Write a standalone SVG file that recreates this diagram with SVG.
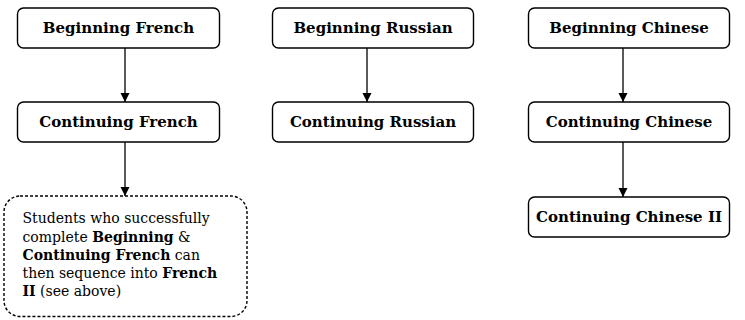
<svg xmlns="http://www.w3.org/2000/svg" width="745" height="320" viewBox="0 0 745 320">
<defs>
<marker id="arr" markerWidth="10" markerHeight="10" refX="9" refY="5" orient="auto" markerUnits="userSpaceOnUse">
<path d="M0,0.5 L9,5 L0,9.5 z" fill="#000"/>
</marker>
<style>
.box{fill:#fff;stroke:#000;stroke-width:1.4}
.note{fill:#fff;stroke:#000;stroke-width:1.4;stroke-dasharray:3,2}
.lbl{font-family:"DejaVu Serif","Liberation Serif",serif;font-weight:bold;font-size:15px;text-anchor:middle;fill:#000}
.txt{font-family:"DejaVu Serif","Liberation Serif",serif;font-size:14px;fill:#000}
.edge{stroke:#000;stroke-width:1.3;fill:none;marker-end:url(#arr)}
</style>
</defs>
<rect width="745" height="320" fill="#fff"/>
<g id="connectors">
<line class="edge" x1="125" y1="48" x2="125" y2="102"/>
<line class="edge" x1="125" y1="142" x2="125" y2="196"/>
<line class="edge" x1="367" y1="48" x2="367" y2="102"/>
<line class="edge" x1="623" y1="48" x2="623" y2="102"/>
<line class="edge" x1="623" y1="142" x2="623" y2="197"/>
</g>
<g id="beginning-french"><rect class="box" x="17.5" y="8" width="202" height="40" rx="6"/><text class="lbl" x="118.5" y="33">Beginning French</text></g>
<g id="continuing-french"><rect class="box" x="17.5" y="102" width="202" height="40" rx="6"/><text class="lbl" x="118.5" y="127">Continuing French</text></g>
<g id="beginning-russian"><rect class="box" x="272.5" y="8" width="201" height="40" rx="6"/><text class="lbl" x="373" y="33">Beginning Russian</text></g>
<g id="continuing-russian"><rect class="box" x="272.5" y="102" width="201" height="40" rx="6"/><text class="lbl" x="373" y="127">Continuing Russian</text></g>
<g id="beginning-chinese"><rect class="box" x="528.5" y="8" width="201" height="40" rx="6"/><text class="lbl" x="629" y="33">Beginning Chinese</text></g>
<g id="continuing-chinese"><rect class="box" x="528.5" y="102" width="201" height="40" rx="6"/><text class="lbl" x="629" y="127">Continuing Chinese</text></g>
<g id="continuing-chinese-ii"><rect class="box" x="528.5" y="197" width="201" height="40" rx="6"/><text class="lbl" x="629" y="222">Continuing Chinese II</text></g>
<g id="french-note">
<rect class="note" x="4" y="196" width="243" height="120.5" rx="16"/>
<text class="txt" x="22.5" y="223">Students who successfully</text>
<text class="txt" x="22.5" y="241.5">complete <tspan font-weight="bold">Beginning</tspan> &amp;</text>
<text class="txt" x="22.5" y="260"><tspan font-weight="bold">Continuing French</tspan> can</text>
<text class="txt" x="22.5" y="278">then sequence into <tspan font-weight="bold">French</tspan></text>
<text class="txt" x="22.5" y="295.5"><tspan font-weight="bold">II</tspan> (see above)</text>
</g>
</svg>
